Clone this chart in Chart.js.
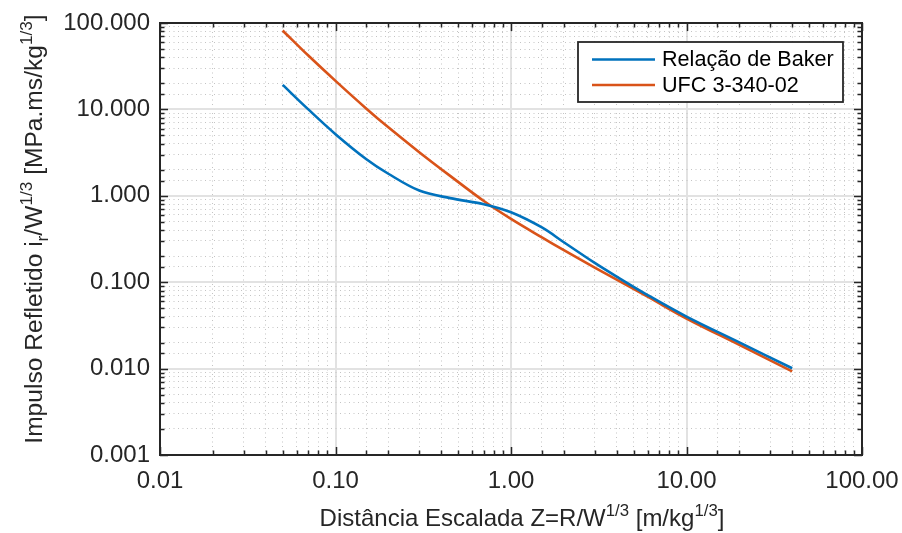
<!DOCTYPE html>
<html lang="pt">
<head>
  <meta charset="UTF-8">
  <title>Impulso Refletido</title>
  <script src="https://cdn.jsdelivr.net/npm/chart.js"></script>
  <style>
    body { margin: 0; background: #fff; }
    #wrap { width: 902px; height: 533px; }
  </style>
</head>
<body>
  <div id="wrap"><canvas id="impulseChart" width="902" height="533"></canvas></div>

  <script>
    // dados
    const zValues = [0.05, 0.07, 0.1, 0.15, 0.2, 0.3, 0.45, 0.7, 1, 1.5, 2, 3, 4, 6, 10, 20, 40];
    const bakerImpulse = [19.2, 10.0, 5.17, 2.65, 1.80, 1.15, 0.94, 0.80, 0.645, 0.43, 0.29, 0.167, 0.116, 0.071, 0.040, 0.0201, 0.0101];
    const ufcImpulse = [82, 42, 21.4, 10.2, 6.2, 3.2, 1.7, 0.87, 0.54, 0.33, 0.235, 0.1475, 0.107, 0.068, 0.038, 0.0188, 0.0093];
    const xMajorTicks = [0.01, 0.1, 1, 10, 100];
    const yMajorTicks = [0.001, 0.01, 0.1, 1, 10, 100];
    const seriesNames = ['Relação de Baker', 'UFC 3-340-02'];
    const seriesColors = ['#0072BD', '#D95319'];

    const axisColor = '#262626';
    const fontFamily = '"Liberation Sans", Arial, Helvetica, sans-serif';

    function isMajor(v, majors) {
      return majors.some(m => Math.abs(Math.log10(v) - Math.log10(m)) < 1e-6);
    }

    // texto com sobrescrito / subscrito
    const xTitle = [{t: 'Distância Escalada Z=R/W'}, {t: '1/3', s: 'sup'}, {t: ' [m/kg'}, {t: '1/3', s: 'sup'}, {t: ']'}];
    const yTitle = [{t: 'Impulso Refletido i'}, {t: 'r', s: 'sub'}, {t: '/W'}, {t: '1/3', s: 'sup'}, {t: ' [MPa.ms/kg'}, {t: '1/3', s: 'sup'}, {t: ']'}];

    function richWidth(ctx, parts, size) {
      let w = 0;
      parts.forEach(p => {
        ctx.font = (p.s ? size * 0.7 : size) + 'px ' + fontFamily;
        w += ctx.measureText(p.t).width;
      });
      return w;
    }

    function drawRich(ctx, parts, x, y, size) {
      let cx = x;
      parts.forEach(p => {
        ctx.font = (p.s ? size * 0.7 : size) + 'px ' + fontFamily;
        const dy = p.s === 'sup' ? -size * 0.42 : (p.s === 'sub' ? size * 0.25 : 0);
        ctx.fillText(p.t, cx, y + dy);
        cx += ctx.measureText(p.t).width;
      });
    }

    const frameAndLabels = {
      id: 'frameAndLabels',
      afterDatasetsDraw(chart) {
        const ctx = chart.ctx;
        const a = chart.chartArea;
        ctx.save();
        ctx.strokeStyle = axisColor;
        ctx.lineWidth = 1.5;
        // marcas internas nos quatro lados
        const xs = chart.scales.x, ys = chart.scales.y;
        ctx.beginPath();
        xs.ticks.forEach(t => {
          const px = Math.round(xs.getPixelForValue(t.value)) + 0.5;
          const len = isMajor(t.value, xMajorTicks) ? 8 : 4.5;
          ctx.moveTo(px, a.bottom); ctx.lineTo(px, a.bottom - len);
          ctx.moveTo(px, a.top); ctx.lineTo(px, a.top + len);
        });
        ys.ticks.forEach(t => {
          const py = Math.round(ys.getPixelForValue(t.value)) + 0.5;
          const len = isMajor(t.value, yMajorTicks) ? 8 : 4.5;
          ctx.moveTo(a.left, py); ctx.lineTo(a.left + len, py);
          ctx.moveTo(a.right, py); ctx.lineTo(a.right - len, py);
        });
        ctx.stroke();
        ctx.lineWidth = 2;
        ctx.strokeRect(a.left, a.top, a.right - a.left, a.bottom - a.top);
        ctx.restore();
      },
      afterDraw(chart) {
        const ctx = chart.ctx;
        const a = chart.chartArea;
        ctx.save();
        ctx.fillStyle = axisColor;
        ctx.textBaseline = 'alphabetic';
        ctx.textAlign = 'left';

        // título do eixo x
        const wx = richWidth(ctx, xTitle, 24);
        drawRich(ctx, xTitle, 522 - wx / 2, 526, 24);

        // título do eixo y
        const wy = richWidth(ctx, yTitle, 24.6);
        ctx.save();
        ctx.translate(42, 229);
        ctx.rotate(-Math.PI / 2);
        drawRich(ctx, yTitle, -wy / 2, 0, 24.6);
        ctx.restore();

        // legenda
        const lx = 578, ly = 42, lw = 265, lh = 60;
        ctx.fillStyle = '#fff';
        ctx.fillRect(lx, ly, lw, lh);
        ctx.strokeStyle = axisColor;
        ctx.lineWidth = 1.8;
        ctx.strokeRect(lx, ly, lw, lh);
        ctx.font = '21.6px ' + fontFamily;
        ctx.textBaseline = 'middle';
        chart.data.datasets.forEach((ds, i) => {
          const yy = 59.5 + i * 25.5;
          ctx.strokeStyle = ds.borderColor;
          ctx.lineWidth = 2.5;
          ctx.beginPath();
          ctx.moveTo(592, yy);
          ctx.lineTo(655, yy);
          ctx.stroke();
          ctx.fillStyle = '#000';
          ctx.fillText(ds.label, 662, yy + 1);
        });
        ctx.restore();
      }
    };

    function gridColor(majors) {
      return c => (c.tick && isMajor(c.tick.value, majors)) ? '#e2e2e2' : '#c4c4c4';
    }
    function gridWidth(majors) {
      return c => (c.tick && isMajor(c.tick.value, majors)) ? 2 : 1;
    }
    function gridDash(majors) {
      return c => (c.tick && isMajor(c.tick.value, majors)) ? [] : [1, 3.5];
    }

    const ctx = document.getElementById('impulseChart').getContext('2d');
    new Chart(ctx, {
      type: 'line',
      data: {
        datasets: [
          {
            label: seriesNames[0],
            data: zValues.map((z, i) => ({x: z, y: bakerImpulse[i]})),
            borderColor: seriesColors[0],
            borderWidth: 2.6,
            pointRadius: 0,
            tension: 0.35,
            fill: false
          },
          {
            label: seriesNames[1],
            data: zValues.map((z, i) => ({x: z, y: ufcImpulse[i]})),
            borderColor: seriesColors[1],
            borderWidth: 2.6,
            pointRadius: 0,
            tension: 0.35,
            fill: false
          }
        ]
      },
      options: {
        responsive: false,
        animation: false,
        devicePixelRatio: 1,
        layout: { padding: { top: 23, right: 40, left: 0, bottom: 0 } },
        plugins: {
          legend: { display: false },
          tooltip: { enabled: false }
        },
        scales: {
          x: {
            type: 'logarithmic',
            min: 0.01,
            max: 100,
            afterFit: s => { s.height = 78; s.paddingLeft = 0; s.paddingRight = 0; },
            grid: {
              color: gridColor(xMajorTicks),
              lineWidth: gridWidth(xMajorTicks),
              drawTicks: false
            },
            border: { display: false, dash: gridDash(xMajorTicks) },
            ticks: {
              autoSkip: false,
              maxRotation: 0,
              padding: 12,
              color: axisColor,
              font: { family: fontFamily, size: 24 },
              callback: v => isMajor(v, xMajorTicks) ? Number(v).toFixed(2) : ''
            }
          },
          y: {
            type: 'logarithmic',
            min: 0.001,
            max: 100,
            afterFit: s => { s.width = 160; s.paddingTop = 0; s.paddingBottom = 0; },
            grid: {
              color: gridColor(yMajorTicks),
              lineWidth: gridWidth(yMajorTicks),
              drawTicks: false
            },
            border: { display: false, dash: gridDash(yMajorTicks) },
            ticks: {
              autoSkip: false,
              padding: 10,
              color: axisColor,
              font: { family: fontFamily, size: 24 },
              callback: v => isMajor(v, yMajorTicks) ? Number(v).toFixed(3) : ''
            }
          }
        }
      },
      plugins: [frameAndLabels]
    });
  </script>
</body>
</html>
